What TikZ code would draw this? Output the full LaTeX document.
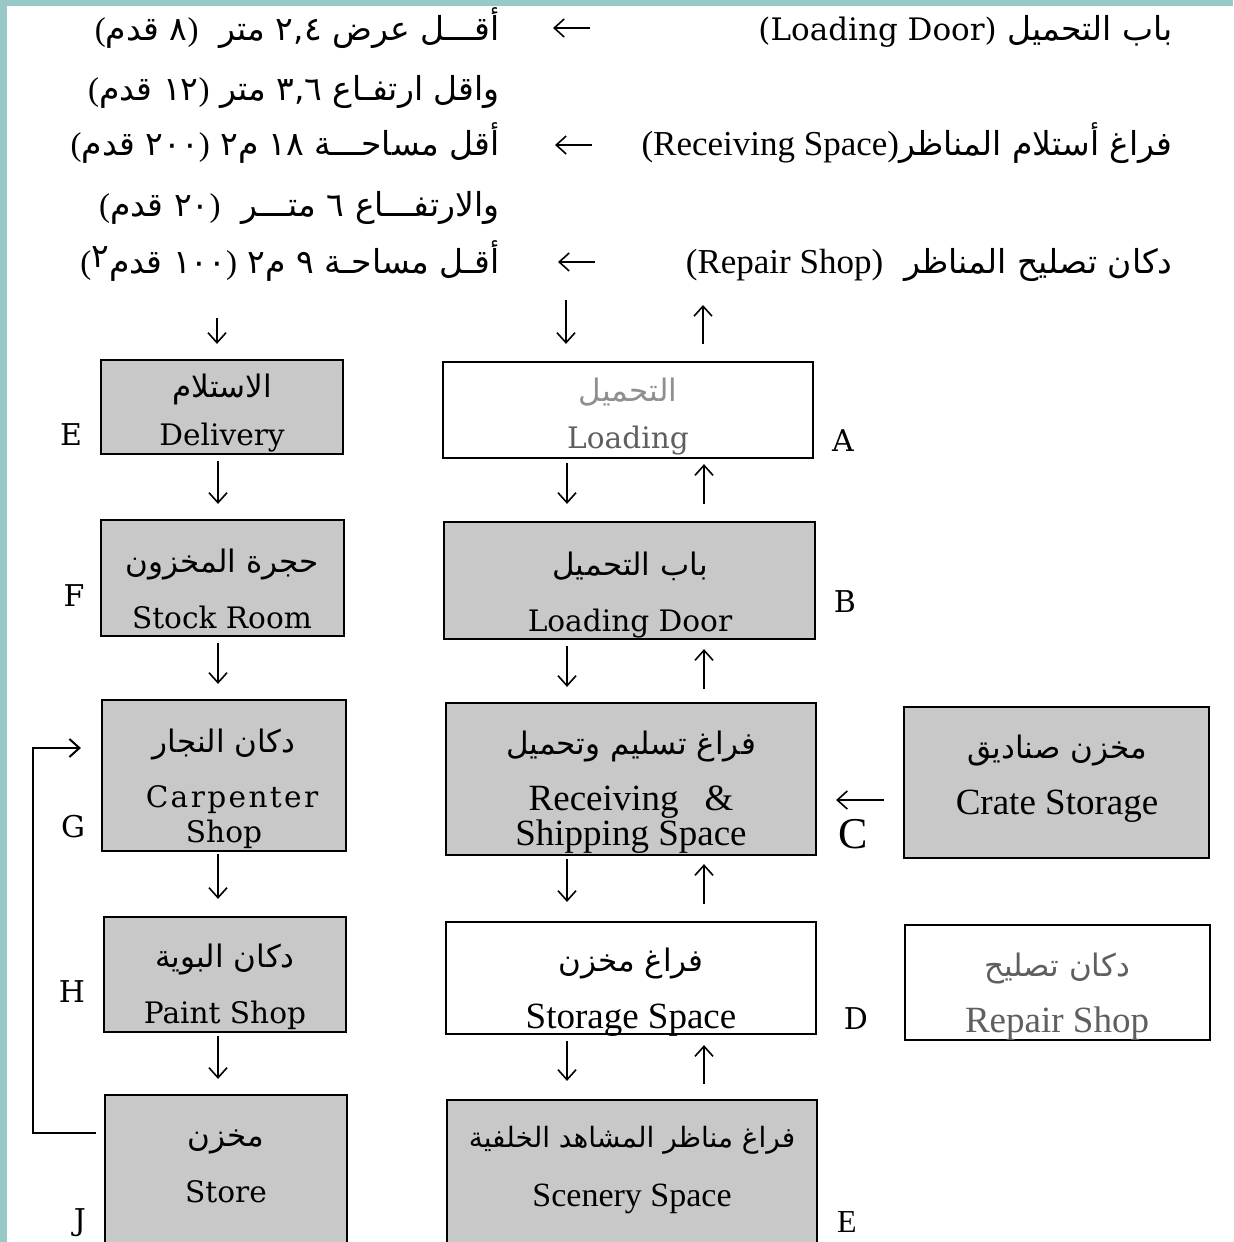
\documentclass[tikz,border=0pt]{standalone}
\usepackage{fontspec}
\usetikzlibrary{arrows.meta,calc}
\TeXXeTstate=1
\newfontfamily\arabicfont[Script=Arabic]{DejaVu Sans}
\newfontfamily\dfont{DejaVu Sans}
\newfontfamily\cenfont{DejaVu Serif}
\newfontfamily\timfont{Liberation Serif}
\newcommand{\AR}[1]{{\arabicfont\beginR #1\endR}}
\newcommand{\PL}{{\timfont(}}
\newcommand{\PR}{{\timfont)}}
\definecolor{boxgray}{RGB}{200,200,200}
\definecolor{frameteal}{RGB}{152,200,200}
\definecolor{fadetext}{RGB}{95,95,95}
\begin{document}
\begin{tikzpicture}[x=0.5pt,y=-0.5pt,
  box/.style={draw=black, line width=1.1pt, inner sep=0pt},
  gbox/.style={box, fill=boxgray},
  wbox/.style={box, fill=white},
  arr/.style={-{Straight Barb[length=5pt,width=9pt]}, line width=0.8pt},
  cen/.style={font=\cenfont\fontsize{14.8}{16}\selectfont, anchor=mid, inner sep=0pt},
  tim/.style={font=\timfont\fontsize{18.5}{20}\selectfont, anchor=mid, inner sep=0pt},
  art/.style={font=\arabicfont\fontsize{15.5}{17}\selectfont, anchor=mid, inner sep=0pt},
  topl/.style={font=\arabicfont\fontsize{16.5}{18}\selectfont, anchor=mid east, inner sep=0pt},
  lett/.style={font=\cenfont\fontsize{15}{16}\selectfont, anchor=mid, inner sep=0pt}
]
\clip (0,0) rectangle (1233,1242);
\fill[white] (0,0) rectangle (1233,1242);
\fill[frameteal] (0,0) rectangle (1233,6);
\fill[frameteal] (0,0) rectangle (7,1242);

% ---- top text lines ----
\node[topl] (L1) at (500,36) {\PL\AR{قدم}{\dfont\ ٨}\PR\ \ \AR{متر}{\dfont\ ٢,٤\ }\AR{أقـــل عرض}};
\node[topl] (L2) at (500,96) {\PL\AR{قدم}{\dfont\ ١٢}\PR\ \AR{متر}{\dfont\ ٣,٦\ }\AR{واقل ارتفـاع}};
\node[topl] (L3) at (500,151) {\PL\AR{قدم}{\dfont\ ٢٠٠}\PR\ {\dfont ٢}\AR{م}{\dfont\ ١٨\ }\AR{أقل مساحـــة}};
\node[topl] (L4) at (500,212) {\PL\AR{قدم}{\dfont\ ٢٠}\PR\ \ \AR{متـــر}{\dfont\ ٦\ }\AR{والارتفـــاع}};
\node[topl] (L5) at (500,269) {\PL{\dfont\raisebox{0.3ex}{٢}}\AR{قدم}{\dfont\ ١٠٠}\PR\ {\dfont ٢}\AR{م}{\dfont\ ٩\ }\AR{أقـل مساحـة}};

\node[topl] (R1) at (1173,36) {{\cenfont\fontsize{15.5}{17}\selectfont (Loading Door)}\ \AR{باب التحميل}};
\node[topl] (R3) at (1173,151) {{\timfont\fontsize{17.5}{19}\selectfont (Receiving Space)}\AR{فراغ أستلام المناظر}};
\node[topl] (R5) at (1173,269) {{\timfont\fontsize{17.5}{19}\selectfont (Repair Shop)}\ \ \AR{دكان تصليح المناظر}};

\coordinate (h1a) at (590,28); \coordinate (h1b) at (553,28);
\coordinate (h3a) at (592,145); \coordinate (h3b) at (555,145);
\coordinate (h5a) at (595,262); \coordinate (h5b) at (558,262);
\draw[arr] (h1a) -- (h1b);
\draw[arr] (h3a) -- (h3b);
\draw[arr] (h5a) -- (h5b);

% ---- left column boxes ----
\node[gbox, minimum width=121pt, minimum height=47pt] (E) at (222,407) {};
\node[gbox, minimum width=121.5pt, minimum height=58pt] (F) at (222.5,578) {};
\node[gbox, minimum width=122pt, minimum height=75.5pt] (G) at (224,775.5) {};
\node[gbox, minimum width=121pt, minimum height=57.5pt] (H) at (225,974.5) {};
\node[gbox, minimum width=121pt, minimum height=83.5pt] (J) at (226,1178.5) {};

% ---- middle column boxes ----
\node[wbox, minimum width=185pt, minimum height=48pt] (A) at (628,410) {};
\node[gbox, minimum width=185.5pt, minimum height=58.5pt] (B) at (629.5,580.5) {};
\node[gbox, minimum width=185pt, minimum height=76pt] (C) at (631,779) {};
\node[wbox, minimum width=185pt, minimum height=56pt] (D) at (631,978) {};
\node[gbox, minimum width=185pt, minimum height=81pt] (S) at (632,1181) {};

% ---- right column boxes ----
\node[gbox, minimum width=152.5pt, minimum height=75.5pt] (Cr) at (1056.5,782.5) {};
\node[wbox, minimum width=152.5pt, minimum height=57.5pt] (Rp) at (1057.5,982.5) {};

% ---- box texts ----
\node[art] (Ea) at (222,393) {\AR{الاستلام}};
\node[cen] (Ee) at (222,441) {Delivery};
\node[art] (Fa) at (222,568) {\AR{حجرة المخزون}};
\node[cen] (Fe) at (222,624) {Stock Room};
\node[art] (Ga) at (224,748) {\AR{دكان النجار}};
\node[cen] (Ge1) at (232,803) {\addfontfeature{LetterSpace=8}Carpenter};
\node[cen] (Ge2) at (224,838) {Shop};
\node[art] (Ha) at (225,963) {\AR{دكان البوية}};
\node[cen] (He) at (225,1019) {Paint Shop};
\node[art] (Ja) at (226,1142) {\AR{مخزن}};
\node[cen] (Je) at (226,1198) {Store};

\node[art, text=fadetext!70] (Aa) at (628,397) {\AR{التحميل}};
\node[cen, text=fadetext] (Ae) at (628,444) {Loading};
\node[art] (Ba) at (630,571) {\AR{باب التحميل}};
\node[cen] (Be) at (630,627) {Loading Door};
\node[art] (Ca) at (631,750) {\AR{فراغ تسليم وتحميل}};
\node[tim] (Ce1) at (631,806) {Receiving\hspace{0.7em}\&};
\node[tim] (Ce2) at (631,841) {Shipping Space};
\node[art] (Cra) at (1057,754) {\AR{مخزن صناديق}};
\node[tim] (Cre) at (1057,810) {Crate Storage};
\node[art] (Da) at (631,967) {\AR{فراغ مخزن}};
\node[tim] (De) at (631,1024) {Storage Space};
\node[art, text=fadetext] (Rpa) at (1057,972) {\AR{دكان تصليح}};
\node[tim, text=fadetext] (Rpe) at (1057,1028) {Repair Shop};
\node[art, font=\arabicfont\fontsize{14}{16}\selectfont] (Sa) at (632,1143) {\AR{فراغ مناظر المشاهد الخلفية}};
\node[tim, font=\timfont\fontsize{17}{19}\selectfont] (Se) at (632,1202) {Scenery Space};

% ---- letters ----
\node[lett] (lE) at (71,441) {E};
\node[lett] (lF) at (74,602) {F};
\node[lett] (lG) at (73,833) {G};
\node[lett] (lH) at (72,998) {H};
\node[lett] (lJ) at (80,1226) {J};
\node[lett] (lA) at (843,447) {A};
\node[lett] (lB) at (845,608) {B};
\node[lett, font=\timfont\fontsize{22}{24}\selectfont] (lC) at (853,844) {C};
\node[lett] (lD) at (856,1025) {D};
\node[lett, font=\timfont\fontsize{16}{18}\selectfont] (lE2) at (847,1228) {E};

% ---- connectors ----
\coordinate (lx) at (218,0);
\coordinate (dx) at (567,0);
\coordinate (ux) at (704,0);
\coordinate (t1) at (217,318);
\coordinate (t2) at (566,300);
\coordinate (t3) at (703,305);

\draw[arr, shorten >=7.5pt] (t1) -- (t1 |- E.north);
\draw[arr, shorten >=8.5pt] (t2) -- (t2 |- A.north);
\draw[arr, shorten <=8.5pt] (t3 |- A.north) -- (t3);

\draw[arr, shorten <=3pt, shorten >=7.5pt] (E.south -| lx) -- (F.north -| lx);
\draw[arr, shorten <=3pt, shorten >=7.5pt] (F.south -| lx) -- (G.north -| lx);
\draw[arr, shorten <=1pt, shorten >=8.5pt] (G.south -| lx) -- (H.north -| lx);
\draw[arr, shorten <=1.5pt, shorten >=7.5pt] (H.south -| lx) -- (J.north -| lx);

\draw[arr, shorten <=2pt, shorten >=8.5pt] (A.south -| dx) -- (B.north -| dx);
\draw[arr, shorten <=8.5pt, shorten >=2.5pt] (B.north -| ux) -- (A.south -| ux);
\draw[arr, shorten <=3pt, shorten >=7.5pt] (B.south -| dx) -- (C.north -| dx);
\draw[arr, shorten <=6.5pt, shorten >=4.5pt] (C.north -| ux) -- (B.south -| ux);
\draw[arr, shorten <=1.5pt, shorten >=9.5pt] (C.south -| dx) -- (D.north -| dx);
\draw[arr, shorten <=8.5pt, shorten >=4pt] (D.north -| ux) -- (C.south -| ux);
\draw[arr, shorten <=3pt, shorten >=9pt] (D.south -| dx) -- (S.north -| dx);
\draw[arr, shorten <=7.5pt, shorten >=5pt] (S.north -| ux) -- (D.south -| ux);

\coordinate (cy) at (0,800);
\draw[arr, shorten <=9.5pt, shorten >=9.5pt] (Cr.west |- cy) -- (C.east |- cy);

\coordinate (fb1) at (0,1133);
\coordinate (fb2) at (0,748);
\coordinate (fbx) at (33,0);
\draw[arr, line width=1pt, shorten <=4pt, shorten >=10pt] (J.west |- fb1) -| (fbx |- fb2) -- (G.west |- fb2);
\end{tikzpicture}
\end{document}
